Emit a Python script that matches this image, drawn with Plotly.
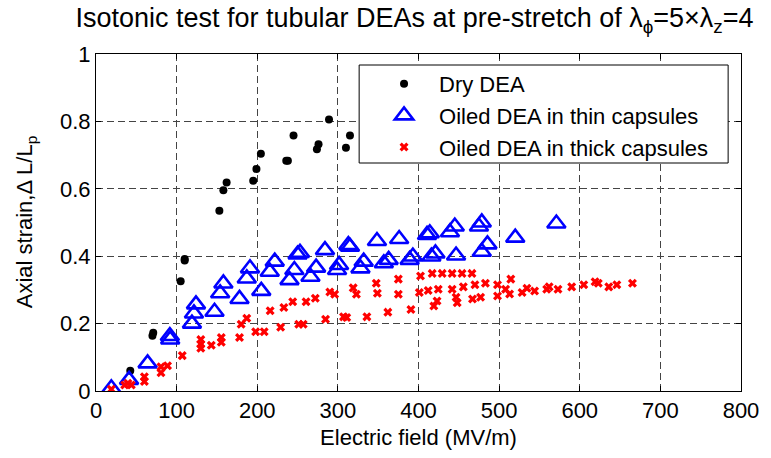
import plotly.graph_objects as go

# Dry DEA
dry_x = [42.5, 70, 71, 105, 110, 110, 153, 158, 162, 195, 199, 204.5, 236, 238, 245, 274, 276, 289, 310, 315]
dry_y = [0.06, 0.164, 0.173, 0.326, 0.387, 0.392, 0.535, 0.596, 0.619, 0.624, 0.659, 0.704, 0.683, 0.683, 0.758, 0.717, 0.732, 0.806, 0.722, 0.758]

# Oiled DEA in thin capsules
thin_x = [19, 41, 64, 91.6, 92, 119, 121.5, 124, 147, 154, 158, 178, 187, 191, 205, 215.5, 221.7,
          240, 246, 250, 253, 266, 273, 284, 299, 301.5, 313, 315, 328, 332, 348.5, 357, 363,
          376, 389, 393, 410.6, 414, 416, 421, 439, 445, 446.6, 475, 478.5, 478.5, 485.5, 520, 571]
thin_y = [0.008, 0.033, 0.082, 0.163, 0.153, 0.2, 0.23, 0.257, 0.235, 0.29, 0.319, 0.273, 0.334, 0.364,
          0.297, 0.354, 0.384, 0.329, 0.359, 0.405, 0.41, 0.339, 0.366, 0.418, 0.359, 0.374, 0.433,
          0.428, 0.364, 0.384, 0.445, 0.379, 0.389, 0.451, 0.389, 0.399, 0.463, 0.468, 0.399, 0.408,
          0.471, 0.488, 0.402, 0.488, 0.5, 0.413, 0.435, 0.455, 0.497]

# Oiled DEA in thick capsules
thick_x = [19, 35.6, 39.6, 43.8, 60, 60, 80.6, 80.6, 88.7, 107, 130, 130, 130, 143, 155.4, 155.4, 178,
           180, 187, 198, 208.6, 216, 229, 233, 244, 251.5, 257, 260.5, 272, 284.7, 290, 296, 307,
           311, 319, 323, 336, 347.6, 349, 362, 375, 375, 390.6, 401, 402.5, 412, 417, 429.4, 441.7,
           454, 466.3, 419, 423, 424.5, 441.7, 446.6, 448, 455.6, 467, 477, 470, 483, 498, 498, 508,
           513, 514.5, 528.5, 534.5, 544, 559, 562, 573, 590, 605, 619, 623, 636, 646, 665.4]
thick_y = [0.005, 0.018, 0.023, 0.018, 0.042, 0.028, 0.072, 0.054, 0.075, 0.105, 0.153, 0.139, 0.127,
           0.136, 0.159, 0.145, 0.159, 0.198, 0.216, 0.176, 0.176, 0.238, 0.189, 0.248, 0.265, 0.198,
           0.198, 0.265, 0.275, 0.213, 0.294, 0.287, 0.22, 0.218, 0.306, 0.287, 0.22, 0.32, 0.29,
           0.234, 0.332, 0.287, 0.242, 0.292, 0.341, 0.298, 0.349, 0.349, 0.349, 0.349, 0.349, 0.252,
           0.267, 0.302, 0.302, 0.278, 0.262, 0.309, 0.273, 0.278, 0.315, 0.32, 0.315, 0.282, 0.302,
           0.288, 0.332, 0.292, 0.305, 0.297, 0.302, 0.309, 0.302, 0.309, 0.315, 0.324, 0.32, 0.309,
           0.315, 0.32]

FONT = "Liberation Sans, Arial, Helvetica, sans-serif"
FS = 22

fig = go.Figure()
fig.add_trace(go.Scatter(x=dry_x, y=dry_y, mode="markers", name="Dry DEA",
                         marker=dict(symbol="circle", size=8, color="black")))
fig.add_trace(go.Scatter(x=thin_x, y=thin_y, mode="markers", name="Oiled DEA in thin capsules",
                         marker=dict(symbol="triangle-up-open", size=16, color="#0000ff",
                                     line=dict(width=2.6, color="#0000ff"))))
fig.add_trace(go.Scatter(x=thick_x, y=thick_y, mode="markers", name="Oiled DEA in thick capsules",
                         marker=dict(symbol="x", size=8, color="#ff0000", line=dict(width=0))))

axis_common = dict(showline=True, linecolor="black", linewidth=1, mirror="ticks",
                   ticks="inside", ticklen=5, tickcolor="black", showgrid=True,
                   gridcolor="#444444", gridwidth=1, griddash="7px,4px", zeroline=False,
                   tickfont=dict(family=FONT, size=FS, color="black"))

fig.update_xaxes(range=[0, 800], dtick=100, tick0=0,
                 title=dict(text="Electric field (MV/m)", font=dict(family=FONT, size=FS, color="black"), standoff=7),
                 **axis_common)
fig.update_yaxes(range=[0, 1], dtick=0.2, tick0=0, **axis_common)

# y-axis title as rotated annotation for precise placement
fig.add_annotation(text="Axial strain,\u0394 L/L<sub>p</sub>", xref="paper", yref="paper",
                   x=(25 - 96) / 652, y=0.5, xanchor="center", yanchor="middle",
                   textangle=-90, showarrow=False,
                   font=dict(family=FONT, size=FS, color="black"))

fig.add_shape(type="rect", xref="paper", yref="paper", x0=(362-96)/652, x1=(735-96)/652,
              y0=(391-163)/337, y1=(391-65)/337, line=dict(color="black", width=1),
              fillcolor="white", layer="above")

fig.update_layout(
    width=771, height=458,
    margin=dict(l=96, r=23, t=54, b=67),
    paper_bgcolor="white", plot_bgcolor="white",
    font=dict(family=FONT, color="black"),
    title=dict(text="Isotonic test for tubular DEAs at pre-stretch of \u03bb<sub>\u03d5</sub>=5\u00d7\u03bb<sub>z</sub>=4",
               xref="paper", x=(418-96)/652, xanchor="center", y=0.962, yanchor="middle",
               font=dict(family=FONT, size=27, color="black")),
    legend=dict(x=(372-96)/652, xanchor="left", y=(391-63)/337, yanchor="top",
                bgcolor="rgba(0,0,0,0)", borderwidth=0, itemwidth=60,
                font=dict(family=FONT, size=FS, color="black"), tracegroupgap=0),
    showlegend=True,
)

fig.write_html("out.html")
